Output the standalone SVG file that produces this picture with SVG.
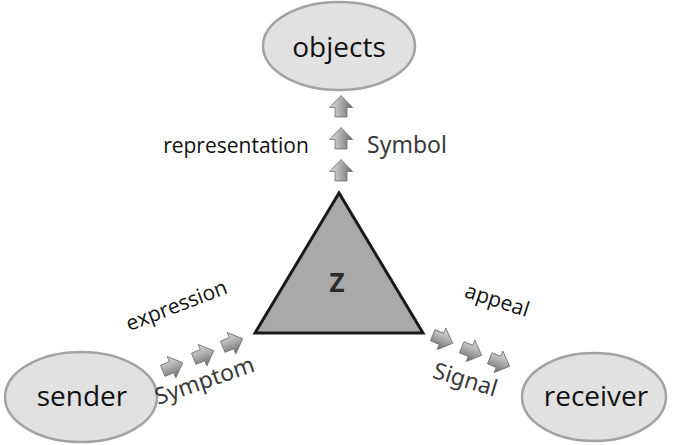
<svg xmlns="http://www.w3.org/2000/svg" width="673" height="445" viewBox="0 0 673 445">
  <defs>
    <linearGradient id="arrowFill" x1="0" y1="0" x2="0" y2="1">
      <stop offset="0" stop-color="#dcdcdc"/>
      <stop offset="0.45" stop-color="#b0b0b0"/>
      <stop offset="1" stop-color="#6c6c6c"/>
    </linearGradient>
    <!-- block arrow pointing right, centred on the origin -->
    <path id="blockArrow" d="M-10,-6 H-0.5 V-11.5 L11.5,0 L-0.5,11.5 V6 H-10 Z" fill="url(#arrowFill)" stroke="#6e6e6e" stroke-width="0.8" stroke-linejoin="round"/>
  </defs>
  <style>
    .node ellipse { fill: #e1e1e1; stroke: #a3a3a3; stroke-width: 2.5; }
    .node text { font-family: "Open Sans", "Noto Sans", sans-serif; font-size: 28px; fill: #111; text-anchor: middle; }
    .func { font-family: "Open Sans", "Noto Sans", sans-serif; font-size: 21px; fill: #111; text-anchor: middle; }
    .sign { font-family: "Noto Sans", "Open Sans", sans-serif; font-size: 23px; fill: #3a3a3a; text-anchor: middle; }
  </style>

  <rect width="673" height="445" fill="#ffffff"/>

  <g id="objects" class="node">
    <ellipse cx="339" cy="46" rx="76" ry="44"/>
    <text x="339" y="57">objects</text>
  </g>

  <g id="sender" class="node">
    <ellipse cx="81" cy="397" rx="76" ry="45"/>
    <text x="82" y="406">sender</text>
  </g>

  <g id="receiver" class="node">
    <ellipse cx="594" cy="397" rx="72" ry="44"/>
    <text x="596" y="406">receiver</text>
  </g>

  <g id="sign-z">
    <polygon points="339,193 255,333 423,333" fill="#a9a9a9" stroke="#1a1a1a" stroke-width="3" stroke-linejoin="miter"/>
    <text x="337" y="292" font-family="Open Sans, Noto Sans, sans-serif" font-size="26" font-weight="bold" fill="#2a2a2a" text-anchor="middle">Z</text>
  </g>

  <g id="connectors">
    <!-- representation: Z up to objects -->
    <use href="#blockArrow" transform="translate(341,107) rotate(-90)"/>
    <use href="#blockArrow" transform="translate(341,139) rotate(-90)"/>
    <use href="#blockArrow" transform="translate(341,171) rotate(-90)"/>
    <!-- expression: sender to Z -->
    <use href="#blockArrow" transform="translate(172,367) rotate(-22)"/>
    <use href="#blockArrow" transform="translate(203,355) rotate(-22)"/>
    <use href="#blockArrow" transform="translate(232,343) rotate(-22)"/>
    <!-- appeal: Z to receiver -->
    <use href="#blockArrow" transform="translate(442,339) rotate(22)"/>
    <use href="#blockArrow" transform="translate(471,351) rotate(22)"/>
    <use href="#blockArrow" transform="translate(499,362) rotate(22)"/>

    <text class="func" x="236" y="153">representation</text>
    <text class="sign" x="407" y="153">Symbol</text>

    <text class="func" transform="translate(179,312) rotate(-21)">expression</text>
    <text class="sign" transform="translate(207,388) rotate(-19)">Symptom</text>

    <text class="func" transform="translate(495,307) rotate(18)">appeal</text>
    <text class="sign" transform="translate(463,387) rotate(17)">Signal</text>
  </g>
</svg>
